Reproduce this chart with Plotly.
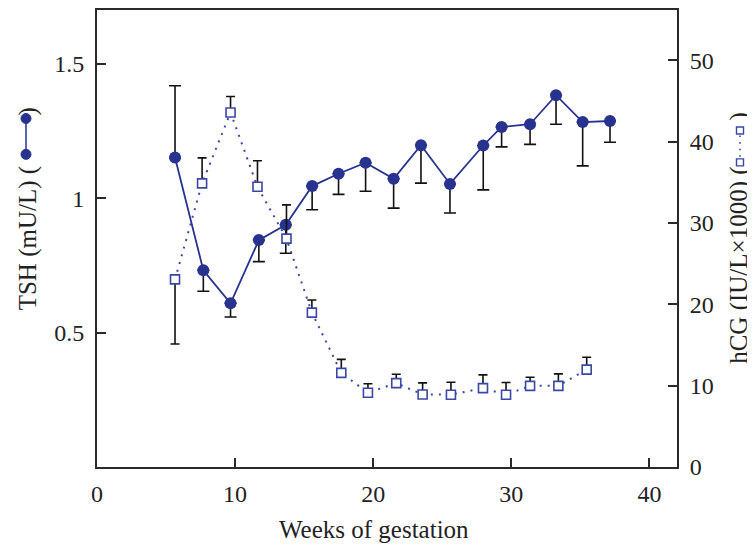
import plotly.graph_objects as go

# ---- data ----
tsh_weeks = [5.65, 7.70, 9.67, 11.72, 13.67, 15.58, 17.49, 19.45, 21.48, 23.46,
             25.56, 27.97, 29.30, 31.36, 33.24, 35.17, 37.15]
tsh_values = [1.151, 0.732, 0.609, 0.844, 0.901, 1.045, 1.091, 1.132, 1.072, 1.197,
              1.053, 1.196, 1.265, 1.275, 1.383, 1.283, 1.287]
tsh_err_up = [0.267, 0, 0, 0, 0, 0, 0, 0, 0, 0, 0, 0, 0, 0, 0, 0, 0]
tsh_err_down = [0, 0.078, 0.051, 0.080, 0.106, 0.088, 0.077, 0.106, 0.109, 0.141,
                0.108, 0.165, 0.074, 0.075, 0.108, 0.163, 0.079]

hcg_weeks = [5.65, 7.61, 9.67, 11.62, 13.72, 15.56, 17.69, 19.62, 21.67, 23.58,
             25.63, 27.95, 29.62, 31.36, 33.41, 35.46]
hcg_values = [23.07, 34.88, 43.6, 34.47, 28.08, 18.99, 11.57, 9.13, 10.31, 8.92,
              8.89, 9.7, 8.89, 9.98, 9.98, 11.98]
hcg_err_up = [0, 3.14, 1.96, 3.2, 4.16, 1.55, 1.67, 1.1, 1.1, 1.43, 1.54, 1.63,
              1.5, 1.06, 1.47, 1.51]
hcg_err_down = [7.95, 0, 0, 0, 0, 0, 0, 0, 0, 0, 0, 0, 0, 0, 0, 0]

x_ticks = [0, 10, 20, 30, 40]
tsh_ticks = [0.5, 1, 1.5]
tsh_ticktext = ["0.5", "1", "1.5"]
hcg_ticks = [0, 10, 20, 30, 40, 50]

FONT = "Liberation Serif"
NAVY = "#28338f"
BLUE = "#3a47a6"
AXIS = "#2a2a2a"
TXT = "#222222"

# page body has an 8px margin: the figure is drawn at (8, 8) in the window
OFF = 8
W, H = 755 - OFF, 549 - OFF
# plot area in window pixels: x 97..677, y 8..467
L, R, T, B = 97 - OFF, 755 - 677, 0, 549 - 467
PW, PH = W - L - R, H - T - B


def px(xw):
    return (xw - OFF - L) / PW


def py(yw):
    return (H - B - (yw - OFF)) / PH


fig = go.Figure()

fig.add_trace(go.Scatter(
    x=tsh_weeks, y=tsh_values, mode="lines+markers", yaxis="y",
    line=dict(color=NAVY, width=1.8),
    marker=dict(symbol="circle", size=12, color=NAVY),
    error_y=dict(type="data", symmetric=False, array=tsh_err_up,
                 arrayminus=tsh_err_down, color="#111111", thickness=1.6, width=6),
    showlegend=False,
))

fig.add_trace(go.Scatter(
    x=hcg_weeks, y=hcg_values, mode="lines+markers", yaxis="y2",
    line=dict(color=BLUE, width=2, dash="2px,6px"),
    marker=dict(symbol="square", size=9, color="white",
                line=dict(color=BLUE, width=1.6)),
    error_y=dict(type="data", symmetric=False, array=hcg_err_up,
                 arrayminus=hcg_err_down, color="#111111", thickness=1.6, width=4.5),
    showlegend=False,
))

tickfont = dict(family=FONT, size=24, color=TXT)

fig.update_layout(
    width=W, height=H,
    margin=dict(l=L, r=R, t=T, b=B),
    paper_bgcolor="white", plot_bgcolor="white",
    font=dict(family=FONT, size=24, color=TXT),
    xaxis=dict(range=[0, 42], tickvals=x_ticks, ticks="inside", ticklen=9,
               tickwidth=1.6, tickcolor=AXIS, showline=True, linecolor=AXIS,
               linewidth=1.8, mirror=True, showgrid=False, zeroline=False,
               tickfont=tickfont, ticklabelstandoff=4),
    yaxis=dict(range=[0, 1.7], tickvals=tsh_ticks, ticktext=tsh_ticktext,
               ticks="inside", ticklen=9, tickwidth=1.6, tickcolor=AXIS,
               showline=True, linecolor=AXIS, linewidth=1.8, showgrid=False,
               zeroline=False, tickfont=tickfont, ticklabelstandoff=6),
    yaxis2=dict(range=[0, 56.2], tickvals=hcg_ticks, overlaying="y", side="right",
                ticks="inside", ticklen=9, tickwidth=1.6, tickcolor=AXIS,
                showline=True, linecolor=AXIS, linewidth=1.8, showgrid=False,
                zeroline=False, tickfont=tickfont, ticklabelstandoff=6),
)

tfont = dict(family=FONT, size=25, color=TXT)
ann = []
# x-axis title
ann.append(dict(text="Weeks of gestation", xref="paper", yref="paper",
                x=px(374), y=py(530), xanchor="center", yanchor="middle",
                showarrow=False, font=tfont))
# left title
ann.append(dict(text="TSH (mU/L) (", xref="paper", yref="paper", textangle=-90,
                x=px(28), y=py(163), xanchor="center", yanchor="top",
                showarrow=False, font=tfont))
ann.append(dict(text=")", xref="paper", yref="paper", textangle=-90,
                x=px(28), y=py(104), xanchor="center", yanchor="top",
                showarrow=False, font=tfont))
# right title
ann.append(dict(text="hCG (IU/L×1000) (", xref="paper", yref="paper", textangle=-90,
                x=px(739), y=py(164), xanchor="center", yanchor="top",
                showarrow=False, font=tfont))
ann.append(dict(text=")", xref="paper", yref="paper", textangle=-90,
                x=px(739), y=py(109), xanchor="center", yanchor="top",
                showarrow=False, font=tfont))
fig.update_layout(annotations=ann)

# legend glyphs inside the axis titles
shapes = []
gx_l, gx_r = px(26), px(740)
shapes.append(dict(type="line", xref="paper", yref="paper",
                   x0=gx_l, x1=gx_l, y0=py(118), y1=py(152),
                   line=dict(color="#5a64b4", width=2)))
for gy in (117, 153):
    shapes.append(dict(type="circle", xref="paper", yref="paper",
                       xsizemode="pixel", ysizemode="pixel",
                       xanchor=gx_l, yanchor=py(gy), x0=-5, x1=5, y0=-5, y1=5,
                       fillcolor=NAVY, line=dict(color=NAVY, width=1)))
shapes.append(dict(type="line", xref="paper", yref="paper",
                   x0=gx_r, x1=gx_r, y0=py(134), y1=py(156),
                   line=dict(color=BLUE, width=1.6, dash="1.6px,5px")))
for gy in (129, 161):
    shapes.append(dict(type="rect", xref="paper", yref="paper",
                       xsizemode="pixel", ysizemode="pixel",
                       xanchor=gx_r, yanchor=py(gy), x0=-3.5, x1=3.5, y0=-3.5, y1=3.5,
                       fillcolor="white", line=dict(color=BLUE, width=1.4)))
fig.update_layout(shapes=shapes)

fig.write_html("out.html")
